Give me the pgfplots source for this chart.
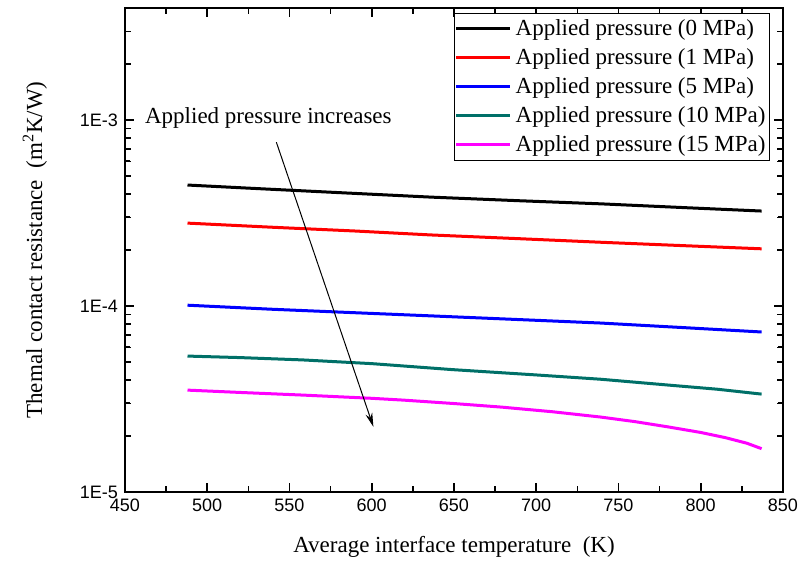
\documentclass[border=0pt]{standalone}
\usepackage{pgfplots}
\pgfplotsset{compat=1.18}
\usepackage{fontspec}
\setmainfont{Liberation Serif}
\setsansfont{Liberation Sans}
\usetikzlibrary{arrows.meta}
\definecolor{tealc}{RGB}{0,112,104}
\definecolor{magc}{RGB}{255,0,255}

\begin{document}
\begin{tikzpicture}
\begin{axis}[
  scale only axis,
  clip=false,
  width=329pt,
  height=242pt,
  ymode=log,
  xmin=450, xmax=850,
  ymin=1e-5, ymax=4e-3,
  xtick={450,500,...,850},
  ytick={1e-5,1e-4,1e-3},
  yticklabels={1E-5,1E-4,1E-3},
  tick align=inside,
  major tick length=4.5pt,
  minor tick length=2.5pt,
  axis line style={line width=0.75pt},
  tick style={black,line width=0.8pt},
  tick label style={font=\fontsize{9}{10}\selectfont\sffamily},
  /pgf/number format/assume math mode=true,
  xlabel={Average interface temperature\ \ (K)},
  ylabel={Themal contact resistance\ \ (m\textsuperscript{2}K/W)},
  label style={font=\fontsize{11.5}{13}\selectfont},
  xlabel style={at={(axis description cs:0.5,-0.114)},anchor=center},
  ylabel style={at={(axis description cs:-0.137,0.5)},anchor=center},
  legend style={at={(1,1)},anchor=north east,xshift=-6.5pt,yshift=-2.5pt,
    font=\fontsize{11.5}{13}\selectfont,draw=black,line width=0.5pt,
    inner xsep=0pt,inner ysep=1pt,row sep=1pt,cells={anchor=west}},
  legend image code/.code={\draw[#1,line width=1.5pt] (0pt,0pt) -- (27pt,0pt);},
]
\addplot[black,line width=1.5pt] coordinates {
  (488,4.47e-4) (530,4.28e-4) (580,4.07e-4) (636,3.85e-4) (690,3.68e-4)
  (740,3.54e-4) (790,3.38e-4) (837,3.24e-4)
};
\addlegendentry{Applied pressure (0 MPa)}
\addplot[red,line width=1.5pt] coordinates {
  (488,2.79e-4) (540,2.65e-4) (590,2.53e-4) (636,2.41e-4) (690,2.30e-4)
  (740,2.20e-4) (790,2.11e-4) (837,2.03e-4)
};
\addlegendentry{Applied pressure (1 MPa)}
\addplot[blue,line width=1.5pt] coordinates {
  (488,1.01e-4) (540,9.6e-5) (590,9.2e-5) (636,8.85e-5) (690,8.45e-5)
  (739,8.1e-5) (790,7.65e-5) (837,7.25e-5)
};
\addlegendentry{Applied pressure (5 MPa)}
\addplot[tealc,line width=1.5pt] coordinates {
  (488,5.38e-5) (520,5.28e-5) (558,5.13e-5) (600,4.90e-5) (649,4.55e-5)
  (700,4.26e-5) (739,4.04e-5) (780,3.76e-5) (810,3.57e-5) (837,3.36e-5)
};
\addlegendentry{Applied pressure (10 MPa)}
\addplot[magc,line width=1.5pt] coordinates {
  (488,3.53e-5) (520,3.43e-5) (558,3.32e-5) (600,3.19e-5) (619,3.12e-5)
  (650,2.99e-5) (679,2.86e-5) (710,2.70e-5) (739,2.53e-5) (760,2.39e-5)
  (780,2.24e-5) (800,2.09e-5) (815,1.96e-5) (828,1.83e-5) (837,1.71e-5)
};
\addlegendentry{Applied pressure (15 MPa)}
% tick marks on all four sides, pointing inward
\pgfplotsinvokeforeach{500,550,600,650,700,750,800}{
  \draw[line width=0.7pt] (axis cs:#1,1e-5) -- ++(0pt,4.5pt);
  \draw[line width=0.7pt] (axis cs:#1,4e-3) -- ++(0pt,-4.5pt);
}
\pgfplotsinvokeforeach{475,525,575,625,675,725,775,825}{
  \draw[line width=0.7pt] (axis cs:#1,1e-5) -- ++(0pt,2.8pt);
  \draw[line width=0.7pt] (axis cs:#1,4e-3) -- ++(0pt,-2.8pt);
}
\pgfplotsinvokeforeach{1e-4,1e-3}{
  \draw[line width=0.7pt] (axis cs:450,#1) -- ++(4.5pt,0pt);
  \draw[line width=0.7pt] (axis cs:850,#1) -- ++(-4.5pt,0pt);
}
\pgfplotsinvokeforeach{2e-5,3e-5,4e-5,5e-5,6e-5,7e-5,8e-5,9e-5,
    2e-4,3e-4,4e-4,5e-4,6e-4,7e-4,8e-4,9e-4,2e-3,3e-3}{
  \draw[line width=0.7pt] (axis cs:450,#1) -- ++(2.8pt,0pt);
  \draw[line width=0.7pt] (axis cs:850,#1) -- ++(-2.8pt,0pt);
}
\draw[-{Stealth[length=7pt,width=3.5pt]},line width=0.5pt]
  (axis cs:542,7.6e-4) -- (axis cs:601,2.24e-5);
\node[anchor=west,inner sep=0pt,font=\fontsize{11.5}{13}\selectfont]
  at (axis cs:462,1.026e-3) {Applied pressure increases};
\end{axis}
\pgfresetboundingbox
\path[use as bounding box] ([shift={(-62.5pt,-34.5pt)}]current axis.south west)
  rectangle ([shift={(8pt,4pt)}]current axis.north east);
\end{tikzpicture}
\end{document}
